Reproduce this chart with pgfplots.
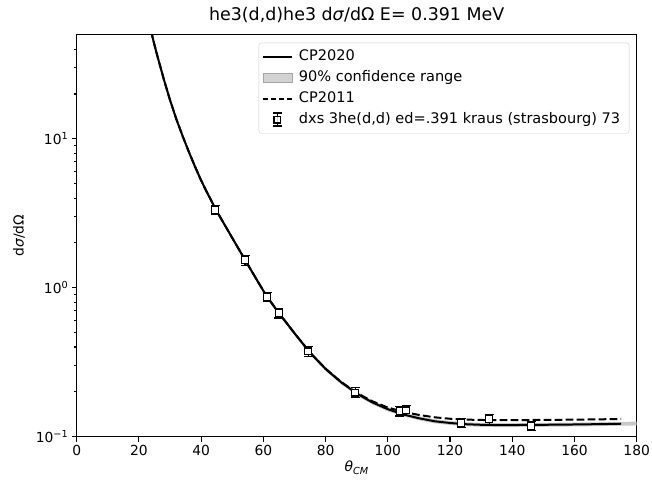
\documentclass[border=0pt]{standalone}
\usepackage{fontspec}
\setmainfont{DejaVu Sans}
\usepackage{pgfplots}
\pgfplotsset{compat=1.18}
\definecolor{bandgray}{gray}{0.78}
\begin{document}
\begin{tikzpicture}
\begin{semilogyaxis}[
  scale only axis, width=560bp, height=402bp,
  xmin=0, xmax=180, ymin=0.1, ymax=50,
  axis line style={line width=1.1bp},
  every tick/.style={line width=1.1bp, black},
  tick align=outside,
  major tick length=4.9bp, minor tick length=2.8bp,
  xtick={0,20,...,180},
  ytick={0.1,1,10},
  yticklabels={10\textsuperscript{−1},10\textsuperscript{0},10\textsuperscript{1}},
  minor ytick={0.2,0.3,0.4,0.5,0.6,0.7,0.8,0.9,2,3,4,5,6,7,8,9,20,30,40},
  xtick pos=bottom, ytick pos=left,
  /pgf/number format/assume math mode=true,
  tick label style={font=\fontsize{13.9}{16}\selectfont},
  title={he3(d,d)he3 d\textit{σ}/dΩ E= 0.391 MeV},
  title style={font=\fontsize{17.5}{20}\selectfont, at={(axis description cs:0.5,1)}, anchor=base, yshift=8.3bp},
  xlabel={\textit{θ}\textsubscript{\textit{CM}}},
  xlabel style={font=\fontsize{13.9}{16}\selectfont, at={(axis description cs:0.5,0)}, anchor=center, yshift=-31bp},
  ylabel={d\textit{σ}/dΩ},
  ylabel style={font=\fontsize{13.9}{16}\selectfont, at={(axis description cs:-0.103,0.5)}, anchor=center, rotate=0},
  legend style={at={(1,1)}, anchor=north east, xshift=-7.4bp, yshift=-8bp,
    draw=black!20, fill=white, fill opacity=0.8, text opacity=1, draw opacity=1,
    rounded corners=2.5bp, inner xsep=3bp, inner ysep=3.5bp,
    font=\fontsize{14.6}{17}\selectfont,
    nodes={inner xsep=6bp, inner ysep=3.3bp, text height=10.8bp, text depth=3.5bp},
    row sep=0bp},
  legend cell align=left,
]
% confidence band
\addplot[fill=bandgray, draw=none, forget plot] coordinates {
(23,64.9)(24,53.5)(25,44.0)(26,36.6)(27,30.8)(28,25.9)(30,18.7)(32,14.0)(34,10.8)(36,8.47)(38,6.73)(40,5.41)(42,4.45)(45,3.37)(50,2.22)(55,1.47)(58,1.15)(61,0.907)(65,0.696)(70,0.510)(75,0.378)(80,0.294)(85,0.239)(90,0.201)(95,0.175)(100,0.158)(105,0.145)(110,0.137)(115,0.131)(120,0.1275)(125,0.1250)(130,0.1238)(135,0.1233)(140,0.1233)(145,0.1236)(150,0.1238)(160,0.1244)(170,0.1252)(175,0.1258)(180,0.1262)
(180,0.1190)(175,0.1186)(170,0.1180)(160,0.1172)(150,0.1166)(145,0.1164)(140,0.1161)(135,0.1161)(130,0.1166)(125,0.1177)(120,0.1199)(115,0.123)(110,0.129)(105,0.137)(100,0.148)(95,0.165)(90,0.189)(85,0.225)(80,0.276)(75,0.356)(70,0.480)(65,0.656)(61,0.855)(58,1.09)(55,1.39)(50,2.10)(45,3.17)(42,4.19)(40,5.09)(38,6.33)(36,7.97)(34,10.2)(32,13.2)(30,17.7)(28,24.3)(27,29.0)(26,34.4)(25,41.4)(24,50.3)(23,61.1)
};
% CP2020
\addplot[black, line width=2bp, forget plot] coordinates {
(23,63.0)(24,51.9)(25,42.7)(26,35.5)(27,29.9)(28,25.1)(30,18.2)(32,13.6)(34,10.5)(36,8.22)(38,6.53)(40,5.25)(42,4.32)(45,3.27)(50,2.16)(55,1.43)(58,1.12)(61,0.881)(65,0.676)(70,0.495)(75,0.367)(80,0.285)(85,0.232)(90,0.195)(95,0.170)(100,0.153)(105,0.141)(110,0.133)(115,0.127)(120,0.1236)(125,0.1213)(130,0.1202)(135,0.1197)(140,0.1197)(145,0.1200)(150,0.1202)(160,0.1208)(170,0.1216)(175,0.1222)
};
% CP2011
\addplot[black, line width=2bp, dash pattern=on 7.7bp off 3.3bp, forget plot] coordinates {
(23,63.0)(24,51.9)(25,42.7)(26,35.5)(27,29.9)(28,25.1)(30,18.2)(32,13.6)(34,10.5)(36,8.22)(38,6.53)(40,5.25)(42,4.32)(45,3.27)(50,2.16)(55,1.43)(58,1.12)(61,0.881)(65,0.676)(70,0.495)(75,0.367)(80,0.286)(85,0.233)(90,0.197)(95,0.173)(100,0.157)(105,0.147)(110,0.140)(115,0.135)(120,0.132)(125,0.1303)(130,0.1295)(135,0.1292)(140,0.1292)(145,0.1294)(150,0.1296)(160,0.1302)(170,0.1310)(175,0.1315)
};
% data
\addplot[black, only marks, mark=square*, mark size=3.4bp, forget plot,
  mark options={fill=white, draw=black, line width=1.2bp},
  error bars/.cd, y dir=both, y explicit,
  error bar style={line width=1.1bp, black},
  error mark options={rotate=90, mark size=4.5bp, line width=1.1bp, black}]
  table[x=x, y=y, y error=e] {
x y e
44.5 3.33 0.24
54.1 1.53 0.11
61.2 0.865 0.062
65.0 0.675 0.048
74.4 0.374 0.027
89.5 0.198 0.0145
103.9 0.1485 0.0108
105.9 0.150 0.011
123.6 0.124 0.009
132.6 0.131 0.0095
146.1 0.118 0.0086
};
\addlegendimage{legend image code/.code={\draw[black, line width=2bp, sharp corners] (0bp,0bp) -- (29bp,0bp);}}
\addlegendentry{CP2020}
\addlegendimage{legend image code/.code={\filldraw[fill=bandgray, draw=black!35, line width=0.5bp, sharp corners] (0bp,-4.8bp) rectangle (29bp,4.8bp);}}
\addlegendentry{90\% confidence range}
\addlegendimage{legend image code/.code={\draw[black, line width=2bp, sharp corners, dash pattern=on 5.5bp off 2.4bp] (0bp,0bp) -- (29bp,0bp);}}
\addlegendentry{CP2011}
\addlegendimage{legend image code/.code={
  \draw[black, line width=1.1bp, sharp corners] (14.5bp,-6.5bp) -- (14.5bp,6.5bp);
  \draw[black, line width=1.1bp, sharp corners] (10bp,6.5bp) -- (19bp,6.5bp);
  \draw[black, line width=1.1bp, sharp corners] (10bp,-6.5bp) -- (19bp,-6.5bp);
  \filldraw[draw=black, fill=white, line width=1.2bp, sharp corners] (11.1bp,-3.4bp) rectangle (17.9bp,3.4bp);}}
\addlegendentry{dxs 3he(d,d) ed=.391 kraus (strasbourg) 73}
\end{semilogyaxis}
\pgfresetboundingbox
\path[use as bounding box] (-76.7bp,-44.3bp) rectangle (575.3bp,436.7bp);
\end{tikzpicture}
\end{document}
